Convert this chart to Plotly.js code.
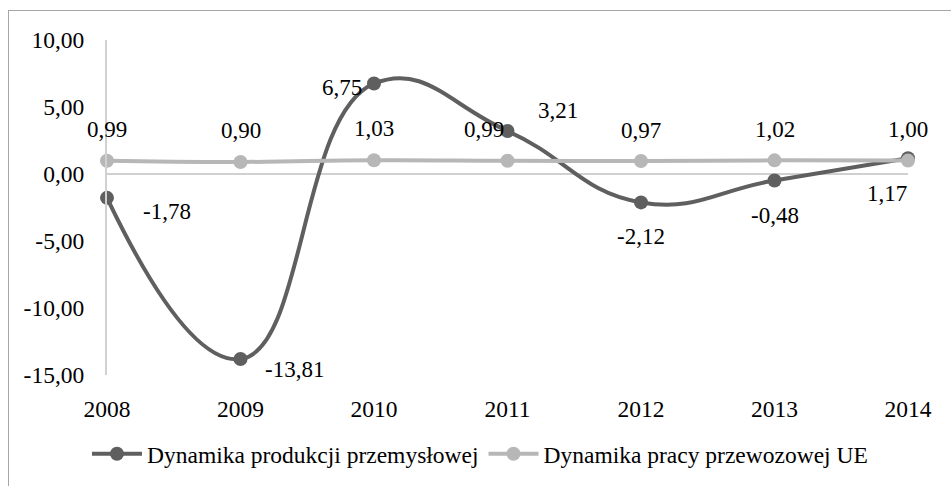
<!DOCTYPE html>
<html>
<head>
<meta charset="utf-8">
<script src="https://cdn.plot.ly/plotly-3.0.1.min.js"></script>
<style>
  body { margin: 0; background: #fff; }
  #wrap { position: relative; width: 951px; height: 486px; overflow: hidden; }
  #frame { position: absolute; left: 8px; top: 10px; width: 960px; height: 500px;
           border-left: 1px solid #a6a6a6; border-top: 1px solid #a6a6a6; }
  #chart { position: absolute; left: 0; top: 0; width: 951px; height: 486px; }
</style>
</head>
<body>
<div id="wrap">
  <div id="frame"></div>
  <div id="chart"></div>
</div>
<script>
// data
const years = [2008, 2009, 2010, 2011, 2012, 2013, 2014];
const produkcja = [-1.78, -13.81, 6.75, 3.21, -2.12, -0.48, 1.17];
const przewozy = [0.99, 0.90, 1.03, 0.99, 0.97, 1.02, 1.00];
const seriesNames = ["Dynamika produkcji przemysłowej", "Dynamika pracy przewozowej UE"];
const yTicks = [-15, -10, -5, 0, 5, 10];

// label offsets (px) for the data labels, style only
const prodShift = [[60, -14], [54, -10], [-32, -4], [50, 20], [0, -34], [0, -35], [-21, -35]];
const przShift = [[0, 31], [0, 31], [0, 32], [-24, 31], [0, 31], [0, 31], [0, 31]];

const dark = "#5f5f5f";
const light = "#b7b7b7";
const font = "'Liberation Serif', 'Times New Roman', serif";

const fmt = (v) => v.toFixed(2).replace(".", ",");

function labels(xs, ys, shifts) {
  return xs.map((x, i) => ({
    x: x, y: ys[i], xref: "x", yref: "y",
    text: fmt(ys[i]), showarrow: false,
    xshift: shifts[i][0], yshift: shifts[i][1],
    font: { family: font, size: 23, color: "#000" },
  }));
}

const traces = [
  {
    x: years, y: produkcja, type: "scatter", mode: "lines+markers",
    name: seriesNames[0],
    line: { color: dark, width: 4, shape: "spline", smoothing: 1.3 },
    marker: { color: dark, size: 14 },
    cliponaxis: false,
  },
  {
    x: years, y: przewozy, type: "scatter", mode: "lines+markers",
    name: seriesNames[1],
    line: { color: light, width: 4, shape: "spline", smoothing: 1.3 },
    marker: { color: light, size: 14 },
    cliponaxis: false,
  },
];

Plotly.newPlot("chart", traces, {
  width: 951, height: 486,
  margin: { l: 107, r: 43, t: 40, b: 111, autoexpand: false },
  paper_bgcolor: "rgba(0,0,0,0)",
  plot_bgcolor: "rgba(0,0,0,0)",
  font: { family: font, size: 23.5, color: "#000" },
  showlegend: true,
  legend: {
    orientation: "h", x: -0.025, xanchor: "left", y: -0.17, yanchor: "top",
    font: { family: font, size: 23.5, color: "#000" },
    itemwidth: 50,
  },
  xaxis: {
    range: [2008, 2014], tickvals: years, ticktext: years.map(String),
    showgrid: false, zeroline: false, showline: false,
    ticks: "outside", ticklen: 13, tickcolor: "rgba(0,0,0,0)",
    fixedrange: true,
  },
  yaxis: {
    range: [-15, 10], tickvals: yTicks, ticktext: yTicks.map(fmt),
    showgrid: false, zeroline: true, zerolinecolor: "#d0d0d0", zerolinewidth: 2,
    showline: true, linecolor: "#d0d0d0", linewidth: 2,
    ticks: "outside", ticklen: 16, tickcolor: "rgba(0,0,0,0)",
    fixedrange: true,
  },
  annotations: labels(years, produkcja, prodShift).concat(labels(years, przewozy, przShift)),
}, { staticPlot: true });
</script>
</body>
</html>
